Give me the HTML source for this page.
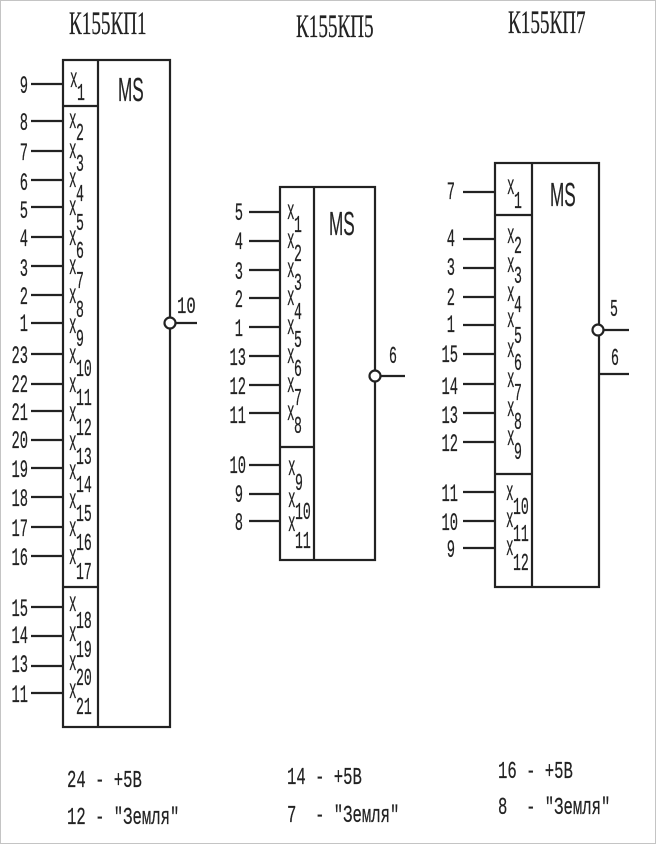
<!DOCTYPE html>
<html><head><meta charset="utf-8"><style>
html,body{margin:0;padding:0;background:#fff}
svg{display:block;filter:blur(.35px)}
text{font-family:"Liberation Mono",monospace;fill:#222;stroke:#222;stroke-width:.25;white-space:pre}
.n{font-size:25px;text-anchor:end}
.x{font-size:28px}
.s{font-size:24px}
.t{font-family:"Liberation Serif",serif;font-size:33px;stroke-width:.25}
.m{font-family:"Liberation Sans",sans-serif;font-size:33px;stroke-width:.2}
.b{font-size:24px}
line,rect,circle{stroke:#222;stroke-width:2.2;fill:none}
circle{fill:#fff}
</style></head><body>
<svg width="656" height="844" viewBox="0 0 656 844" xmlns="http://www.w3.org/2000/svg">
<rect x="0.5" y="0.5" width="655" height="843" style="stroke:#c4c4c4;stroke-width:1"/>

<!-- Column 1 -->
<text class="t" transform="matrix(.58 0 0 1 69 34)">К155КП1</text>
<rect x="63" y="60" width="107" height="667"/>
<line x1="98" y1="60" x2="98" y2="727"/>
<line x1="63" y1="106" x2="98" y2="106"/>
<line x1="63" y1="587" x2="98" y2="587"/>
<text class="m" transform="matrix(.52 0 0 1 118 101)">MS</text>
<line x1="31" y1="84" x2="62" y2="84"/><line x1="31" y1="121" x2="62" y2="121"/><line x1="31" y1="151" x2="62" y2="151"/><line x1="31" y1="180" x2="62" y2="180"/><line x1="31" y1="207" x2="62" y2="207"/><line x1="31" y1="237" x2="62" y2="237"/><line x1="31" y1="266" x2="62" y2="266"/><line x1="31" y1="295" x2="62" y2="295"/><line x1="31" y1="323" x2="62" y2="323"/><line x1="31" y1="354" x2="62" y2="354"/><line x1="31" y1="384" x2="62" y2="384"/><line x1="31" y1="411" x2="62" y2="411"/><line x1="31" y1="440" x2="62" y2="440"/><line x1="31" y1="468" x2="62" y2="468"/><line x1="31" y1="497" x2="62" y2="497"/><line x1="31" y1="527" x2="62" y2="527"/><line x1="31" y1="556" x2="62" y2="556"/><line x1="31" y1="607" x2="62" y2="607"/><line x1="31" y1="636" x2="62" y2="636"/><line x1="31" y1="666" x2="62" y2="666"/><line x1="31" y1="693" x2="62" y2="693"/>
<text class="n" transform="matrix(.55 0 0 1 28 93)">9</text><text class="n" transform="matrix(.55 0 0 1 28 130)">8</text><text class="n" transform="matrix(.55 0 0 1 28 160)">7</text><text class="n" transform="matrix(.55 0 0 1 28 190)">6</text><text class="n" transform="matrix(.55 0 0 1 28 218)">5</text><text class="n" transform="matrix(.55 0 0 1 28 246)">4</text><text class="n" transform="matrix(.55 0 0 1 28 276)">3</text><text class="n" transform="matrix(.55 0 0 1 28 304)">2</text><text class="n" transform="matrix(.55 0 0 1 28 331)">1</text><text class="n" transform="matrix(.55 0 0 1 28 363)">23</text><text class="n" transform="matrix(.55 0 0 1 28 392)">22</text><text class="n" transform="matrix(.55 0 0 1 28 420)">21</text><text class="n" transform="matrix(.55 0 0 1 28 448)">20</text><text class="n" transform="matrix(.55 0 0 1 28 477)">19</text><text class="n" transform="matrix(.55 0 0 1 28 506)">18</text><text class="n" transform="matrix(.55 0 0 1 28 536)">17</text><text class="n" transform="matrix(.55 0 0 1 28 565)">16</text><text class="n" transform="matrix(.55 0 0 1 28 616)">15</text><text class="n" transform="matrix(.55 0 0 1 28 643)">14</text><text class="n" transform="matrix(.55 0 0 1 28 672)">13</text><text class="n" transform="matrix(.55 0 0 1 28 702)">11</text>
<text class="x" transform="matrix(.45 0 0 1 70 87)">x</text><text class="s" transform="matrix(.55 0 0 1 77 100)">1</text>
<text class="x" transform="matrix(.45 0 0 1 69 128)">x</text><text class="s" transform="matrix(.55 0 0 1 76 140)">2</text>
<text class="x" transform="matrix(.45 0 0 1 69 158)">x</text><text class="s" transform="matrix(.55 0 0 1 76 171)">3</text>
<text class="x" transform="matrix(.45 0 0 1 69 187)">x</text><text class="s" transform="matrix(.55 0 0 1 76 201)">4</text>
<text class="x" transform="matrix(.45 0 0 1 69 215)">x</text><text class="s" transform="matrix(.55 0 0 1 76 230)">5</text>
<text class="x" transform="matrix(.45 0 0 1 69 245)">x</text><text class="s" transform="matrix(.55 0 0 1 76 258)">6</text>
<text class="x" transform="matrix(.45 0 0 1 69 274)">x</text><text class="s" transform="matrix(.55 0 0 1 76 288)">7</text>
<text class="x" transform="matrix(.45 0 0 1 69 303)">x</text><text class="s" transform="matrix(.55 0 0 1 76 317)">8</text>
<text class="x" transform="matrix(.45 0 0 1 69 333)">x</text><text class="s" transform="matrix(.55 0 0 1 76 346)">9</text>
<text class="x" transform="matrix(.45 0 0 1 69 363)">x</text><text class="s" transform="matrix(.55 0 0 1 76 376)">10</text>
<text class="x" transform="matrix(.45 0 0 1 69 392)">x</text><text class="s" transform="matrix(.55 0 0 1 76 405)">11</text>
<text class="x" transform="matrix(.45 0 0 1 69 421)">x</text><text class="s" transform="matrix(.55 0 0 1 76 435)">12</text>
<text class="x" transform="matrix(.45 0 0 1 69 450)">x</text><text class="s" transform="matrix(.55 0 0 1 76 464)">13</text>
<text class="x" transform="matrix(.45 0 0 1 69 479)">x</text><text class="s" transform="matrix(.55 0 0 1 76 492)">14</text>
<text class="x" transform="matrix(.45 0 0 1 69 508)">x</text><text class="s" transform="matrix(.55 0 0 1 76 521)">15</text>
<text class="x" transform="matrix(.45 0 0 1 69 536)">x</text><text class="s" transform="matrix(.55 0 0 1 76 550)">16</text>
<text class="x" transform="matrix(.45 0 0 1 69 564)">x</text><text class="s" transform="matrix(.55 0 0 1 76 579)">17</text>
<text class="x" transform="matrix(.45 0 0 1 69 611)">x</text><text class="s" transform="matrix(.55 0 0 1 76 628)">18</text>
<text class="x" transform="matrix(.45 0 0 1 69 641)">x</text><text class="s" transform="matrix(.55 0 0 1 76 657)">19</text>
<text class="x" transform="matrix(.45 0 0 1 69 670)">x</text><text class="s" transform="matrix(.55 0 0 1 76 685)">20</text>
<text class="x" transform="matrix(.45 0 0 1 69 698)">x</text><text class="s" transform="matrix(.55 0 0 1 76 714)">21</text>
<line x1="170" y1="323" x2="197" y2="323"/>
<circle cx="170" cy="323" r="5.5"/>
<text class="s" transform="matrix(.65 0 0 .95 177 313)">10</text>
<text class="b" transform="matrix(.65 0 0 1 67 787)">24 - +5В</text>
<text class="b" transform="matrix(.65 0 0 1 67 824)">12 - "Земля"</text>

<!-- Column 2 -->
<text class="t" transform="matrix(.58 0 0 1 296 37)">К155КП5</text>
<rect x="280" y="187" width="95" height="373"/>
<line x1="314" y1="187" x2="314" y2="560"/>
<line x1="280" y1="447" x2="314" y2="447"/>
<text class="m" transform="matrix(.52 0 0 1 329 235)">MS</text>
<line x1="249" y1="212" x2="279" y2="212"/><line x1="249" y1="241" x2="279" y2="241"/><line x1="249" y1="270" x2="279" y2="270"/><line x1="249" y1="298" x2="279" y2="298"/><line x1="249" y1="327" x2="279" y2="327"/><line x1="249" y1="356" x2="279" y2="356"/><line x1="249" y1="385" x2="279" y2="385"/><line x1="249" y1="413" x2="279" y2="413"/><line x1="249" y1="465" x2="279" y2="465"/><line x1="249" y1="494" x2="279" y2="494"/><line x1="249" y1="521" x2="279" y2="521"/>
<text class="n" transform="matrix(.55 0 0 1 243 220)">5</text><text class="n" transform="matrix(.55 0 0 1 243 249)">4</text><text class="n" transform="matrix(.55 0 0 1 243 279)">3</text><text class="n" transform="matrix(.55 0 0 1 243 307)">2</text><text class="n" transform="matrix(.55 0 0 1 243 336)">1</text><text class="n" transform="matrix(.55 0 0 1 246 365)">13</text><text class="n" transform="matrix(.55 0 0 1 246 394)">12</text><text class="n" transform="matrix(.55 0 0 1 246 423)">11</text><text class="n" transform="matrix(.55 0 0 1 246 473)">10</text><text class="n" transform="matrix(.55 0 0 1 243 502)">9</text><text class="n" transform="matrix(.55 0 0 1 243 530)">8</text>
<text class="x" transform="matrix(.45 0 0 1 287 219)">x</text><text class="s" transform="matrix(.55 0 0 1 294 232)">1</text>
<text class="x" transform="matrix(.45 0 0 1 287 248)">x</text><text class="s" transform="matrix(.55 0 0 1 294 261)">2</text>
<text class="x" transform="matrix(.45 0 0 1 287 277)">x</text><text class="s" transform="matrix(.55 0 0 1 294 290)">3</text>
<text class="x" transform="matrix(.45 0 0 1 287 305)">x</text><text class="s" transform="matrix(.55 0 0 1 294 319)">4</text>
<text class="x" transform="matrix(.45 0 0 1 287 334)">x</text><text class="s" transform="matrix(.55 0 0 1 294 347)">5</text>
<text class="x" transform="matrix(.45 0 0 1 287 363)">x</text><text class="s" transform="matrix(.55 0 0 1 294 376)">6</text>
<text class="x" transform="matrix(.45 0 0 1 287 392)">x</text><text class="s" transform="matrix(.55 0 0 1 294 405)">7</text>
<text class="x" transform="matrix(.45 0 0 1 287 420)">x</text><text class="s" transform="matrix(.55 0 0 1 294 433)">8</text>
<text class="x" transform="matrix(.45 0 0 1 288 475)">x</text><text class="s" transform="matrix(.55 0 0 1 295 490)">9</text>
<text class="x" transform="matrix(.45 0 0 1 288 507)">x</text><text class="s" transform="matrix(.55 0 0 1 295 519)">10</text>
<text class="x" transform="matrix(.45 0 0 1 288 531)">x</text><text class="s" transform="matrix(.55 0 0 1 295 548)">11</text>
<line x1="375" y1="376" x2="405" y2="376"/>
<circle cx="375" cy="376" r="5.5"/>
<text class="s" transform="matrix(.55 0 0 1 389 363)">6</text>
<text class="b" transform="matrix(.65 0 0 1 287 784)">14 - +5В</text>
<text class="b" transform="matrix(.65 0 0 1 287 822)">7  - "Земля"</text>

<!-- Column 3 -->
<text class="t" transform="matrix(.58 0 0 1 508 33)">К155КП7</text>
<rect x="495" y="163" width="104" height="424"/>
<line x1="532" y1="163" x2="532" y2="587"/>
<line x1="495" y1="215" x2="532" y2="215"/>
<line x1="495" y1="474" x2="532" y2="474"/>
<text class="m" transform="matrix(.52 0 0 1 550 206)">MS</text>
<line x1="463" y1="192" x2="495" y2="192"/><line x1="463" y1="239" x2="495" y2="239"/><line x1="463" y1="268" x2="495" y2="268"/><line x1="463" y1="297" x2="495" y2="297"/><line x1="463" y1="325" x2="495" y2="325"/><line x1="463" y1="354" x2="495" y2="354"/><line x1="463" y1="384" x2="495" y2="384"/><line x1="463" y1="413" x2="495" y2="413"/><line x1="463" y1="442" x2="495" y2="442"/><line x1="463" y1="492" x2="495" y2="492"/><line x1="463" y1="521" x2="495" y2="521"/><line x1="463" y1="548" x2="495" y2="548"/>
<text class="n" transform="matrix(.55 0 0 1 455 199)">7</text><text class="n" transform="matrix(.55 0 0 1 455 246)">4</text><text class="n" transform="matrix(.55 0 0 1 455 275)">3</text><text class="n" transform="matrix(.55 0 0 1 455 305)">2</text><text class="n" transform="matrix(.55 0 0 1 455 332)">1</text><text class="n" transform="matrix(.55 0 0 1 458 362)">15</text><text class="n" transform="matrix(.55 0 0 1 458 394)">14</text><text class="n" transform="matrix(.55 0 0 1 458 423)">13</text><text class="n" transform="matrix(.55 0 0 1 458 451)">12</text><text class="n" transform="matrix(.55 0 0 1 458 501)">11</text><text class="n" transform="matrix(.55 0 0 1 458 530)">10</text><text class="n" transform="matrix(.55 0 0 1 455 557)">9</text>
<text class="x" transform="matrix(.45 0 0 1 507 194)">x</text><text class="s" transform="matrix(.55 0 0 1 514 208)">1</text>
<text class="x" transform="matrix(.45 0 0 1 507 243)">x</text><text class="s" transform="matrix(.55 0 0 1 514 253)">2</text>
<text class="x" transform="matrix(.45 0 0 1 507 272)">x</text><text class="s" transform="matrix(.55 0 0 1 514 283)">3</text>
<text class="x" transform="matrix(.45 0 0 1 507 301)">x</text><text class="s" transform="matrix(.55 0 0 1 514 312)">4</text>
<text class="x" transform="matrix(.45 0 0 1 507 327)">x</text><text class="s" transform="matrix(.55 0 0 1 514 343)">5</text>
<text class="x" transform="matrix(.45 0 0 1 507 357)">x</text><text class="s" transform="matrix(.55 0 0 1 514 370)">6</text>
<text class="x" transform="matrix(.45 0 0 1 507 387)">x</text><text class="s" transform="matrix(.55 0 0 1 514 400)">7</text>
<text class="x" transform="matrix(.45 0 0 1 507 416)">x</text><text class="s" transform="matrix(.55 0 0 1 514 429)">8</text>
<text class="x" transform="matrix(.45 0 0 1 507 445)">x</text><text class="s" transform="matrix(.55 0 0 1 514 459)">9</text>
<text class="x" transform="matrix(.45 0 0 1 506 500)">x</text><text class="s" transform="matrix(.55 0 0 1 513 514)">10</text>
<text class="x" transform="matrix(.45 0 0 1 506 527)">x</text><text class="s" transform="matrix(.55 0 0 1 513 541)">11</text>
<text class="x" transform="matrix(.45 0 0 1 506 555)">x</text><text class="s" transform="matrix(.55 0 0 1 513 570)">12</text>
<line x1="598" y1="330" x2="629" y2="330"/>
<line x1="599" y1="374" x2="629" y2="374"/>
<circle cx="598" cy="330" r="5.5"/>
<text class="s" transform="matrix(.55 0 0 1 610 316)">5</text>
<text class="s" transform="matrix(.55 0 0 1 611 365)">6</text>
<text class="b" transform="matrix(.65 0 0 1 498 778)">16 - +5В</text>
<text class="b" transform="matrix(.65 0 0 1 498 814)">8  - "Земля"</text>
</svg>
</body></html>
